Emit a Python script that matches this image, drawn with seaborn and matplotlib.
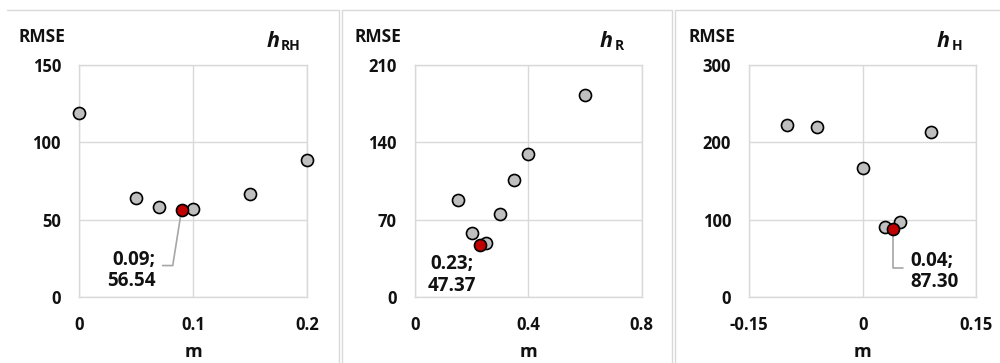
import matplotlib
matplotlib.use("Agg")
import matplotlib.pyplot as plt
from matplotlib.lines import Line2D
import seaborn as sns
import pandas as pd

# ---------------- data ----------------
m_rh = [0.0, 0.05, 0.07, 0.10, 0.15, 0.20]
rmse_rh = [119.0, 64.0, 58.4, 56.9, 66.6, 88.4]
best_rh = (0.09, 56.54)

m_r = [0.15, 0.20, 0.25, 0.30, 0.35, 0.40, 0.60]
rmse_r = [87.8, 58.2, 48.6, 75.1, 105.9, 129.1, 182.5]
best_r = (0.23, 47.37)

m_h = [-0.10, -0.06, 0.0, 0.03, 0.05, 0.09]
rmse_h = [222.4, 219.4, 166.4, 90.9, 97.0, 212.9]
best_h = (0.04, 87.30)

xticks_rh = [0, 0.1, 0.2]
xlabels_rh = ["0", "0.1", "0.2"]
yticks_rh = [0, 50, 100, 150]

xticks_r = [0, 0.4, 0.8]
xlabels_r = ["0", "0.4", "0.8"]
yticks_r = [0, 70, 140, 210]

xticks_h = [-0.15, 0, 0.15]
xlabels_h = ["-0.15", "0", "0.15"]
yticks_h = [0, 100, 200, 300]

titles = [("h", "RH"), ("h", "R"), ("h", "H")]

# ---------------- style ----------------
sns.set_theme(style="white")
plt.rcParams["font.family"] = ["Open Sans", "DejaVu Sans"]
plt.rcParams["font.weight"] = "bold"

W, H = 1000, 363
fig = plt.figure(figsize=(W / 100, H / 100), dpi=100)
fig.patch.set_facecolor("white")

GRID = "#d9d9d9"
GRAY_FILL = "#bfbfbf"
RED = "#c00000"
TXT = "#111111"


def px_ax(left, top, right, bottom):
    return fig.add_axes([left / W, 1 - bottom / H, (right - left) / W, (bottom - top) / H])


panels = [
    dict(box=(79, 65, 307, 297), m=m_rh, r=rmse_rh, best=best_rh,
         xt=xticks_rh, xl=xlabels_rh, yt=yticks_rh,
         title_x=(280, 281), label="{:.2f};\n{:.2f}",
         text_off=(-26, -61), text_ha="right", leader=(-19, -56, 81)),
    dict(box=(415, 65, 641.7, 297), m=m_r, r=rmse_r, best=best_r,
         xt=xticks_r, xl=xlabels_r, yt=yticks_r,
         title_x=(613, 615), label="{:.2f};\n{:.2f}",
         text_off=(-28, -30), text_ha="center", leader=None),
    dict(box=(749.3, 65, 976, 297), m=m_h, r=rmse_h, best=best_h,
         xt=xticks_h, xl=xlabels_h, yt=yticks_h,
         title_x=(950, 952), label="{:.2f};\n{:.2f}",
         text_off=(17, -42), text_ha="left", leader=(10, -39, 90)),
]

for i, p in enumerate(panels):
    ax = px_ax(*p["box"])
    df = pd.DataFrame({"m": p["m"], "RMSE": p["r"]})
    sns.scatterplot(data=df, x="m", y="RMSE", ax=ax, s=75, color=GRAY_FILL,
                    edgecolor="black", linewidth=1.2, zorder=3, clip_on=False)
    bdf = pd.DataFrame({"m": [p["best"][0]], "RMSE": [p["best"][1]]})
    sns.scatterplot(data=bdf, x="m", y="RMSE", ax=ax, s=75, color=RED,
                    edgecolor="black", linewidth=1.2, zorder=4, clip_on=False)

    ax.set_xlim(p["xt"][0], p["xt"][-1])
    ax.set_ylim(p["yt"][0], p["yt"][-1])
    ax.set_xticks(p["xt"])
    ax.set_xticklabels(p["xl"])
    ax.set_yticks(p["yt"])
    ax.set_yticklabels([str(v) for v in p["yt"]])
    ax.tick_params(axis="both", length=0, labelsize=12, colors=TXT)
    ax.tick_params(axis="y", pad=13)
    ax.tick_params(axis="x", pad=14)
    for lbl in ax.get_xticklabels() + ax.get_yticklabels():
        lbl.set_fontweight("bold")
    ax.grid(True, color=GRID, linewidth=1.0)
    ax.set_axisbelow(True)
    for sp in ax.spines.values():
        sp.set_color(GRID)
        sp.set_linewidth(1.0)
    ax.set_facecolor("white")
    ax.set_xlabel("m", fontsize=13, fontweight="bold", labelpad=6, color=TXT)
    ax.set_ylabel("")

    # RMSE label above axis
    l, t, r, b = p["box"]
    fig.text((l - 61) / W, 1 - 37 / H, "RMSE", fontsize=12.5, fontweight="bold",
             ha="left", va="center", color=TXT)

    # title h_sub
    hx, sx = p["title_x"]
    fig.text(hx / W, 1 - 47 / H, titles[i][0],
             fontsize=15.5, fontweight="bold", fontstyle="italic",
             ha="right", va="baseline", color=TXT)
    fig.text(sx / W, 1 - 50 / H, titles[i][1],
             fontsize=10, fontweight="bold", ha="left", va="baseline", color=TXT)

    # data label
    bx, by = p["best"]
    ax.annotate(p["label"].format(bx, by), xy=(bx, by), xytext=p["text_off"],
                textcoords="offset pixels", ha=p["text_ha"], va="center",
                multialignment=p["text_ha"], fontsize=13.5, fontweight="bold",
                linespacing=1.12, zorder=5, color=TXT)
    if p["leader"] is not None:
        dx, dy, angB = p["leader"]
        ax.annotate("", xy=(bx, by), xytext=(dx, dy), textcoords="offset pixels",
                    arrowprops=dict(arrowstyle="-", color="#a6a6a6", lw=1.2,
                                    shrinkA=0, shrinkB=4,
                                    connectionstyle=f"angle,angleA=0,angleB={angB},rad=0"),
                    zorder=2)

# chart-object frames (light borders, as in the spreadsheet export)
frame_kw = dict(color="#d9d9d9", linewidth=1.0, transform=fig.transFigure)


def fline(x0, y0, x1, y1):
    fig.add_artist(Line2D([x0 / W, x1 / W], [1 - y0 / H, 1 - y1 / H], **frame_kw))


fline(7, 10, 339, 10)
fline(339, 10, 339, 363)
fline(342, 10, 672, 10)
fline(342, 10, 342, 363)
fline(672, 10, 672, 363)
fline(675, 10, 1000, 10)
fline(675, 10, 675, 363)

fig.savefig("out.png", dpi=100, facecolor="white")
